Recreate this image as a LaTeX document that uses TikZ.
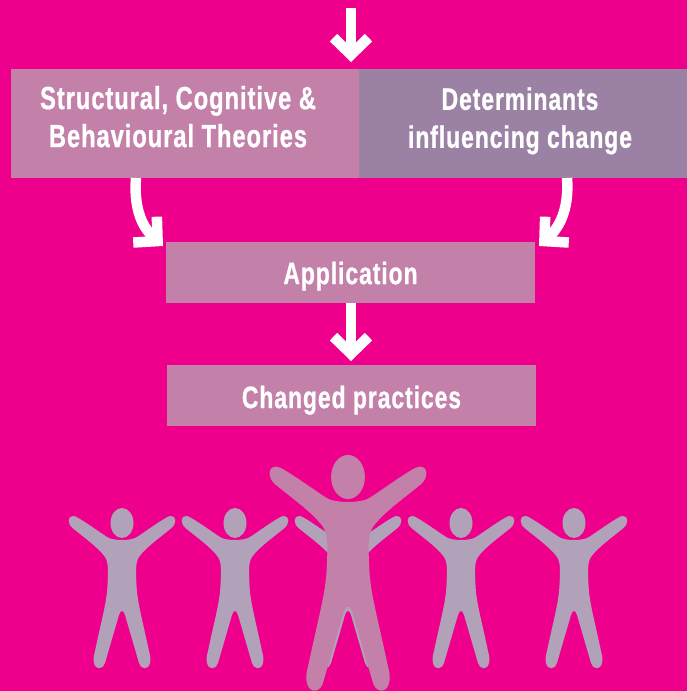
\documentclass[tikz,border=0pt]{standalone}
\usepackage{fontspec}
\usetikzlibrary{arrows.meta,calc}
\newfontfamily\condfont[FakeStretch=0.74,LetterSpace=3.0,FakeBold=0.8]{Liberation Sans Bold}
\definecolor{bgpink}{HTML}{EE008C}
\definecolor{boxpink}{HTML}{C380A9}
\definecolor{boxmauve}{HTML}{9B82A5}
\definecolor{smallfig}{HTML}{B2A2B9}
\tikzset{
  box/.style={fill=#1,draw=none,inner sep=0pt,text=white,align=center,font=\condfont\fontsize{31}{38}\selectfont},
  flow/.style={draw=white,line width=10.5pt,-{Straight Barb[length=17pt,width=35pt,line width=10.5pt]}},
  person/.pic={
    \fill (0,0) ellipse [x radius=11.5,y radius=15];
    \fill (0,88) .. controls (-1,88) and (-2,89) .. (-3,92)
      -- (-17,140) .. controls (-18.5,146) and (-26,148) .. (-28,140)
      .. controls (-29,136) and (-28,132) .. (-27,128)
      .. controls (-20,95) and (-15,78) .. (-14.5,62)
      .. controls (-14,50) and (-13,40) .. (-17,34)
      .. controls (-24,24) and (-40,13) .. (-49.5,5)
      .. controls (-55,0.5) and (-54.5,-7.5) .. (-48.5,-7)
      .. controls (-45,-7) and (-30,4) .. (-15,14)
      .. controls (-9,18) and (9,18) .. (15,14)
      .. controls (30,4) and (45,-7) .. (48.5,-7)
      .. controls (54.5,-7.5) and (55,0.5) .. (49.5,5)
      .. controls (40,13) and (24,24) .. (17,34)
      .. controls (13,40) and (14,50) .. (14.5,62)
      .. controls (15,78) and (20,95) .. (27,128)
      .. controls (28,132) and (29,136) .. (28,140)
      .. controls (26,148) and (18.5,146) .. (17,140)
      -- (3,92) .. controls (2,89) and (1,88) .. (0,88) -- cycle;
  }
}
\begin{document}
\begin{tikzpicture}[x=1pt,y=-1pt]
\useasboundingbox (0,0) rectangle (687,691);
\fill[bgpink] (0,0) rectangle (687,691);
\node[box=boxpink,minimum width=348pt,minimum height=109pt] (theories) at (185,123.5) {\hspace*{-14pt}\fontsize{32}{38}\selectfont\rule[-17.4pt]{0pt}{0pt}\shortstack{\strut Structural, Cognitive \&\\[-3pt]\strut Behavioural Theories}};
\node[box=boxmauve,minimum width=328pt,minimum height=109pt] (determinants) at (523,123.5) {\hspace*{-6pt}\rule[-16pt]{0pt}{0pt}\shortstack{\strut Determinants\\[-3pt]\strut influencing change}};
\node[box=boxpink,minimum width=369pt,minimum height=61pt] (application) at (350.5,272.5) {\rule{0pt}{34.6pt}\strut Application};
\node[box=boxpink,minimum width=369pt,minimum height=61pt] (changed) at (351.5,395.5) {\rule{0pt}{36.6pt}\strut Changed practices};
\coordinate (start) at (351,8);
\coordinate (merge) at (351,62);
\coordinate (leftin) at (163,246);
\coordinate (rightin) at (539,246);
\coordinate (appout) at (351,361);
\draw[flow] (start) -- (merge);
\draw[flow] (application.south -| appout) -- (appout);
\draw[flow] (136,178) .. controls (134,205) and (140,225) .. (leftin);
\draw[flow] (567,178) .. controls (569,205) and (562,225) .. (rightin);
\foreach \px in {122,235,348,461,574}
  \pic[smallfig] at (\px,523) {person};
\pic[boxpink,scale=1.47] at (348,477) {person};
\end{tikzpicture}
\end{document}
